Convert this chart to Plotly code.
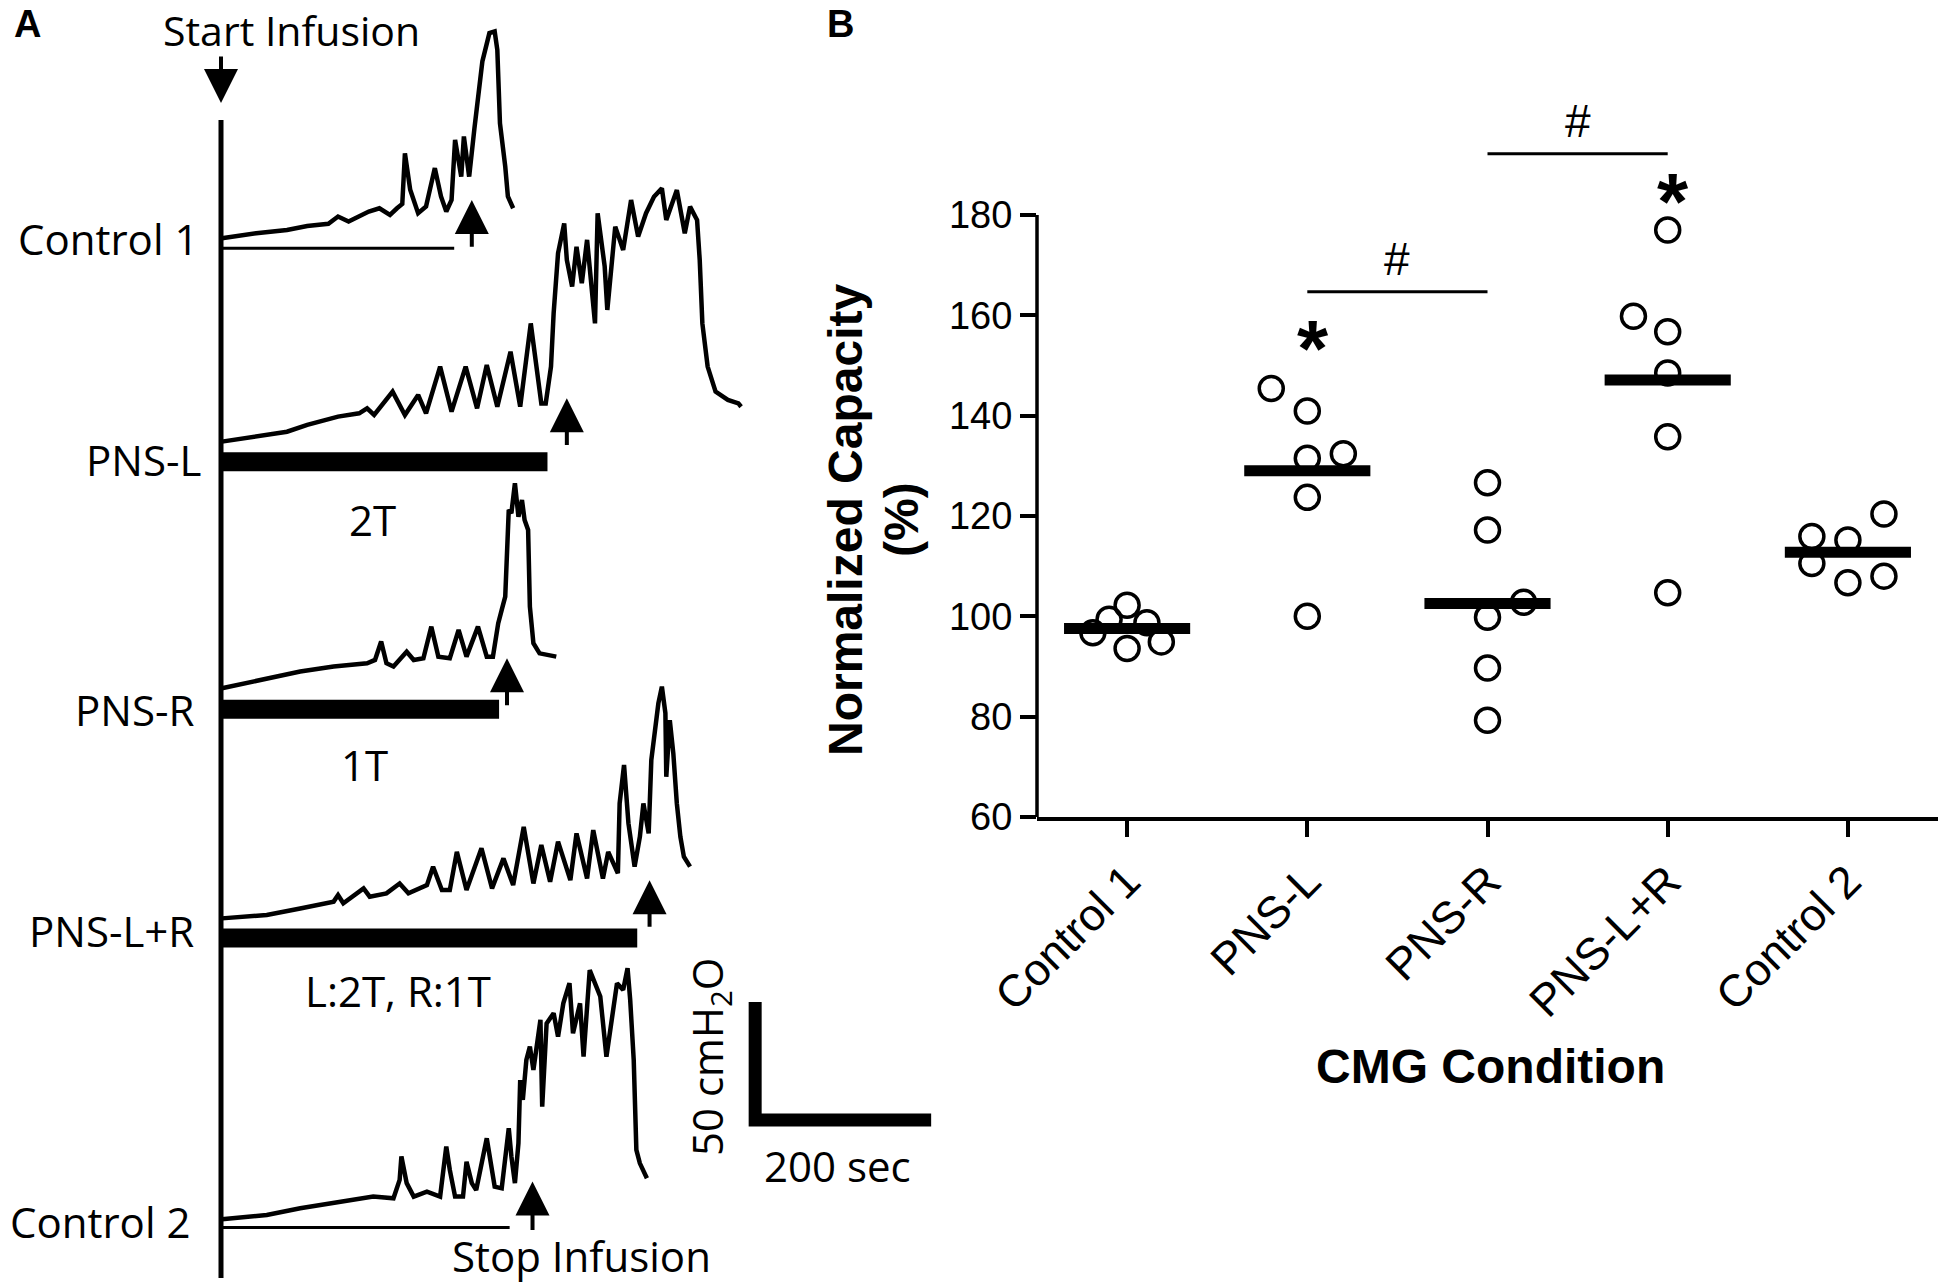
import numpy as np
import plotly.graph_objects as go

W, H = 1943, 1287

# ---------------- Panel A data: CMG traces (time in s, pressure in cmH2O) ----------------
trace_names = ["Control 1", "PNS-L", "PNS-R", "PNS-L+R", "Control 2"]

t_control1 = [1, 40, 75, 98, 122, 133, 145, 157, 168, 180, 192, 200, 206, 209, 215, 224, 233, 243,
              250, 256, 262, 266, 273, 276, 282, 288, 297, 305, 311, 314, 317, 323, 326, 332]
p_control1 = [0, 2.1, 3.5, 5.2, 6.1, 9.2, 7.1, 9.2, 11.3, 12.7, 9.9, 12.7, 14.5, 36, 20.5, 10.6, 13.4, 29.7,
              17.7, 11.3, 16.2, 41.7, 26.1, 43.1, 26.1, 46.6, 74.9, 86.9, 87.6, 79.8, 48.7, 30.4, 17.7, 12.7]

t_pnsl = [1, 40, 75, 98, 133, 157, 166, 174, 195, 209, 224, 233, 249, 262, 278, 291, 302, 314, 329, 340,
          352, 364, 369, 375, 378, 383, 390, 393, 399, 404, 410, 416, 425, 428, 436, 439, 448, 457, 466, 474,
          483, 492, 501, 506, 518, 527, 533, 541, 544, 547, 553, 562, 576, 588, 591]
p_pnsl = [0, 2.1, 4.2, 7.1, 10.6, 12, 14.1, 11.3, 21.2, 11.3, 19.8, 12, 31.8, 12.7, 31.8, 14.1, 32.5, 14.8, 38.1, 14.8,
          50.1, 16.2, 16.2, 31.8, 54.4, 79.8, 92.5, 77, 65.7, 82.6, 67.1, 85.5, 50.1, 96.8, 74.2, 55.8, 91.1, 81.2, 102.4, 86.9,
          96.8, 103.8, 107.3, 93.9, 106.6, 88.3, 99.6, 93.9, 77, 50.1, 31.8, 21.2, 17.7, 16.2, 14.8]

t_pnsr = [1, 52, 90, 128, 166, 175, 182, 188, 196, 211, 219, 230, 239, 247, 260, 270, 279, 292, 302, 309,
          315, 319, 323, 327, 330, 334, 338, 342, 345, 349, 351, 355, 362, 381]
p_pnsr = [0, 4.2, 7.1, 9.2, 10.6, 12, 19.8, 10.6, 9.2, 15.5, 12, 12.7, 26.1, 13.4, 12.7, 24.7, 13.4, 26.1, 13.4, 13.4,
          27.5, 33.2, 38.8, 75.6, 74.2, 86.9, 72.7, 79.8, 71.3, 67.1, 34.6, 19.1, 14.8, 13.4]

t_pnslr = [1, 52, 90, 128, 133, 139, 162, 169, 188, 203, 213, 234, 241, 251, 260, 268, 279, 296, 308, 321,
           332, 344, 355, 364, 374, 383, 397, 404, 416, 423, 434, 440, 451, 453, 458, 463, 470, 476, 480, 486,
           489, 497, 501, 505, 506, 510, 514, 518, 522, 526, 533]
p_pnslr = [0, 1.4, 4.2, 7.1, 9.9, 6.4, 12.7, 9.2, 10.6, 14.8, 10.6, 14.1, 21.9, 12, 12, 28.2, 12, 29.7, 12.7, 25.4,
           14.1, 38.8, 14.8, 31.1, 15.5, 32.5, 16.2, 36, 16.9, 37.4, 16.9, 28.2, 19.1, 48.7, 65, 40.3, 21.9, 34.6, 48.7, 36,
           67.1, 91.1, 98.2, 86.9, 60, 84, 69.9, 48.7, 34.6, 26.1, 21.9]

t_control2 = [1, 52, 90, 128, 173, 196, 203, 205, 211, 219, 234, 249, 256, 260, 266, 275, 279, 285, 290, 302,
              306, 311, 319, 327, 330, 334, 338, 340, 343, 347, 351, 355, 363, 365, 370, 378, 383, 389, 396, 400,
              408, 412, 419, 427, 431, 438, 444, 450, 457, 462, 465, 469, 472, 476, 484]
p_control2 = [0, 1.8, 4.7, 6.8, 9.6, 8.9, 16.7, 26.6, 15.3, 9.6, 11.7, 9.6, 30.8, 20.9, 9.6, 9.6, 24.4, 15.3, 12.4, 34.3,
              23.7, 13.8, 13.1, 38.6, 26.6, 15.3, 32.2, 59, 50.6, 67.5, 73.2, 63.3, 84.5, 47.7, 83, 87.3, 77.4, 91.5, 100, 78.8,
              91.5, 68.9, 105.6, 97.2, 94.4, 68.9, 85.9, 100, 97.2, 106.4, 92.9, 67.5, 29.4, 23.7, 17.4]

trace_times = [t_control1, t_pnsl, t_pnsr, t_pnslr, t_control2]
trace_press = [p_control1, p_pnsl, p_pnsr, p_pnslr, p_control2]

trace_offsets = [444.4, 358.2, 253.7, 156.2, 28.7]      # stacking offset of each trace (cmH2O)
stop_time = [285, 393, 325, 487, 354]                   # stop infusion (s)
arrow_head = [16.2, 18.4, 12.7, 16.2, 16.0]
arrow_tail = [-4.2, -2.1, -7.8, -4.2, -5.2]
stim_end = [265, 371, 316, 473, 328]                    # infusion / stimulation period end (s)
stim_level = [-4.2, -8.5, -8.9, -8.3, -3.5]
stim_kind = ["line", "bar", "bar", "bar", "line"]
stim_labels = ["", "2T", "1T", "L:2T, R:1T", ""]

scale_t, scale_p = 200, 50                              # scale bar: 200 s, 50 cmH2O

# ---------------- Panel B data ----------------
categories = ["Control 1", "PNS-L", "PNS-R", "PNS-L+R", "Control 2"]
control1 = [102.2, 99.4, 98.7, 96.7, 94.9, 93.6]
pns_l = [145.4, 140.9, 131.5, 132.4, 123.7, 100.0]
pns_r = [126.6, 117.2, 102.8, 99.8, 89.7, 79.3]
pns_lr = [177.0, 159.8, 156.7, 148.5, 135.8, 104.7]
control2 = [120.4, 115.9, 115.2, 110.5, 108.0, 106.7]
groups = [control1, pns_l, pns_r, pns_lr, control2]
jitter = [[0, -0.1, 0.11, -0.19, 0.19, 0],
          [-0.2, 0, 0, 0.2, 0, 0],
          [0, 0, 0.2, 0, 0, 0],
          [0, -0.19, 0, 0, 0, 0],
          [0.2, -0.2, 0, -0.2, 0.2, 0]]
y_ticks = [60, 80, 100, 120, 140, 160, 180]
sig_pairs = [(1, 2), (2, 3)]
sig_levels = [164.7, 192.2]
star_groups = [1, 3]
star_levels = [156.9, 186.2]

# ---------------- layout constants ----------------
PX_S = 0.88      # px per second
PX_CM = 2.36     # px per cmH2O
T0 = 221         # px of infusion start
A_DOM = 0.494
fontA = "Open Sans, Noto Sans, sans-serif"
fontB = "Liberation Sans, Arial, sans-serif"


def P(x, y):
    return x / W, 1 - y / H


fig = go.Figure()

# ---- Panel A traces ----
for tt, pp, off in zip(trace_times, trace_press, trace_offsets):
    fig.add_trace(go.Scatter(x=tt, y=[v + off for v in pp], mode="lines",
                             line=dict(color="black", width=4.5), xaxis="x", yaxis="y",
                             hoverinfo="skip"))

shapes = []
# vertical start line
shapes.append(dict(type="line", xref="x", yref="y", x0=0, x1=0,
                   y0=(H - 1278) / PX_CM, y1=(H - 120) / PX_CM,
                   line=dict(color="black", width=5)))
for i, off in enumerate(trace_offsets):
    if stim_kind[i] == "bar":
        shapes.append(dict(type="rect", xref="x", yref="y", x0=0, x1=stim_end[i],
                           y0=off + stim_level[i] - 4.0, y1=off + stim_level[i] + 4.0,
                           fillcolor="black", line=dict(width=0)))
    else:
        shapes.append(dict(type="line", xref="x", yref="y", x0=0, x1=stim_end[i],
                           y0=off + stim_level[i], y1=off + stim_level[i],
                           line=dict(color="black", width=3)))

# scale bar
sb_t0, sb_p0 = 607, 70.8
fig.add_trace(go.Scatter(x=[sb_t0, sb_t0, sb_t0 + scale_t], y=[sb_p0 + scale_p, sb_p0, sb_p0],
                         mode="lines", line=dict(color="black", width=13), xaxis="x", yaxis="y",
                         hoverinfo="skip"))

annotations = []
# stop-infusion arrows
for i, off in enumerate(trace_offsets):
    annotations.append(dict(x=stop_time[i], y=off + arrow_head[i], ax=stop_time[i], ay=off + arrow_tail[i],
                            xref="x", yref="y", axref="x", ayref="y", text="", showarrow=True,
                            arrowhead=2, arrowsize=1.7, arrowwidth=4, arrowcolor="black"))
# start-infusion arrow
annotations.append(dict(x=0, y=(H - 103) / PX_CM, ax=0, ay=(H - 55) / PX_CM,
                        xref="x", yref="y", axref="x", ayref="y", text="", showarrow=True,
                        arrowhead=2, arrowsize=1.7, arrowwidth=4, arrowcolor="black"))

label_pos = [(200, 238), (203, 459), (196, 709), (196, 930), (192, 1221)]
for name, (lx, ly) in zip(trace_names, label_pos):
    px_, py_ = P(lx, ly)
    annotations.append(dict(x=px_, y=py_, xref="paper", yref="paper", text=name, showarrow=False,
                            xanchor="right", yanchor="middle", font=dict(family=fontA, size=42, color="black")))

stim_label_pos = [None, (372, 519), (364, 764), (398, 990), None]
for lab, pos in zip(stim_labels, stim_label_pos):
    if lab and pos:
        px_, py_ = P(*pos)
        annotations.append(dict(x=px_, y=py_, xref="paper", yref="paper", text=lab, showarrow=False,
                                xanchor="center", yanchor="middle", font=dict(family=fontA, size=42, color="black")))

px_, py_ = P(291, 0)
annotations.append(dict(x=px_, y=py_, xref="paper", yref="paper", text="Start Infusion", showarrow=False,
                        xanchor="center", yanchor="top", font=dict(family=fontA, size=41, color="black")))
for txt, pos, ang in [("Stop Infusion", (581, 1255), 0),
                      ("200 sec", (837, 1165), 0), ("50 cmH<sub>2</sub>O", (709, 1057), -90)]:
    px_, py_ = P(*pos)
    annotations.append(dict(x=px_, y=py_, xref="paper", yref="paper", text=txt, showarrow=False,
                            textangle=ang, xanchor="center", yanchor="middle",
                            font=dict(family=fontA, size=42, color="black")))

for txt, pos in [("A", (27, 24)), ("B", (840, 24))]:
    px_, py_ = P(*pos)
    annotations.append(dict(x=px_, y=py_, xref="paper", yref="paper", text="<b>%s</b>" % txt,
                            showarrow=False, xanchor="center", yanchor="middle",
                            font=dict(family=fontB, size=38, color="black")))

# ---- Panel B ----
for i, (vals, jit) in enumerate(zip(groups, jitter)):
    fig.add_trace(go.Scatter(x=[i + j for j in jit], y=vals, mode="markers",
                             marker=dict(symbol="circle-open", size=24, color="black",
                                         line=dict(width=3.5, color="black")),
                             xaxis="x2", yaxis="y2", hoverinfo="skip"))
for i, vals in enumerate(groups):
    m = float(np.mean(vals))
    fig.add_trace(go.Scatter(x=[i - 0.35, i + 0.35], y=[m, m], mode="lines",
                             line=dict(color="black", width=11), xaxis="x2", yaxis="y2",
                             hoverinfo="skip"))

# y-axis line (60-180 only)
shapes.append(dict(type="line", xref="x2 domain", yref="y2", x0=0, x1=0, y0=y_ticks[0], y1=y_ticks[-1],
                   line=dict(color="black", width=3.5)))
for (a, b), lev in zip(sig_pairs, sig_levels):
    shapes.append(dict(type="line", xref="x2", yref="y2", x0=a, x1=b, y0=lev, y1=lev,
                       line=dict(color="black", width=3)))
    annotations.append(dict(x=(a + b) / 2, y=lev + 6.5, xref="x2", yref="y2", text="#", showarrow=False,
                            font=dict(family=fontB, size=46, color="black")))
for g, lev in zip(star_groups, star_levels):
    annotations.append(dict(x=g + 0.03, y=lev, xref="x2", yref="y2", text="<b>*</b>", showarrow=False,
                            yshift=-18, font=dict(family=fontB, size=80, color="black")))

px_, py_ = P(846, 520)
annotations.append(dict(x=px_, y=py_, xref="paper", yref="paper", text="<b>Normalized Capacity</b>",
                        textangle=-90, showarrow=False, xanchor="center", yanchor="middle",
                        font=dict(family=fontB, size=48, color="black")))
px_, py_ = P(902, 520)
annotations.append(dict(x=px_, y=py_, xref="paper", yref="paper", text="<b>(%)</b>",
                        textangle=-90, showarrow=False, xanchor="center", yanchor="middle",
                        font=dict(family=fontB, size=48, color="black")))
px_, py_ = P(1490, 1066)
annotations.append(dict(x=px_, y=py_, xref="paper", yref="paper", text="<b>CMG Condition</b>",
                        showarrow=False, xanchor="center", yanchor="middle",
                        font=dict(family=fontB, size=48, color="black")))

yb0 = (H - 817) / H
fig.update_layout(
    width=W, height=H, margin=dict(l=0, r=0, t=0, b=0, pad=0, autoexpand=False),
    paper_bgcolor="white", plot_bgcolor="white", showlegend=False,
    xaxis=dict(domain=[0, A_DOM], range=[-T0 / PX_S, (W * A_DOM - T0) / PX_S], visible=False,
               automargin=False),
    yaxis=dict(domain=[0, 1], range=[0, H / PX_CM], visible=False, automargin=False),
    xaxis2=dict(domain=[1037 / W, 1938 / W], range=[-0.5, 4.5], anchor="y2", automargin=False,
                tickvals=list(range(len(categories))), ticktext=categories, tickangle=-45,
                ticks="outside", ticklen=16, tickwidth=3.5, tickcolor="black",
                showline=True, linewidth=3.5, linecolor="black", showgrid=False, zeroline=False,
                tickfont=dict(family=fontB, size=45, color="black")),
    yaxis2=dict(domain=[yb0, 0.95], range=[60, 210], anchor="x2", automargin=False,
                tickvals=y_ticks, ticks="outside", ticklen=16, tickwidth=3.5, tickcolor="black",
                showline=False, showgrid=False, zeroline=False,
                tickfont=dict(family=fontB, size=38, color="black")),
    shapes=shapes, annotations=annotations,
)

fig.write_html("out.html", post_script="document.body.style.margin='0';",
               config={"displayModeBar": False})
